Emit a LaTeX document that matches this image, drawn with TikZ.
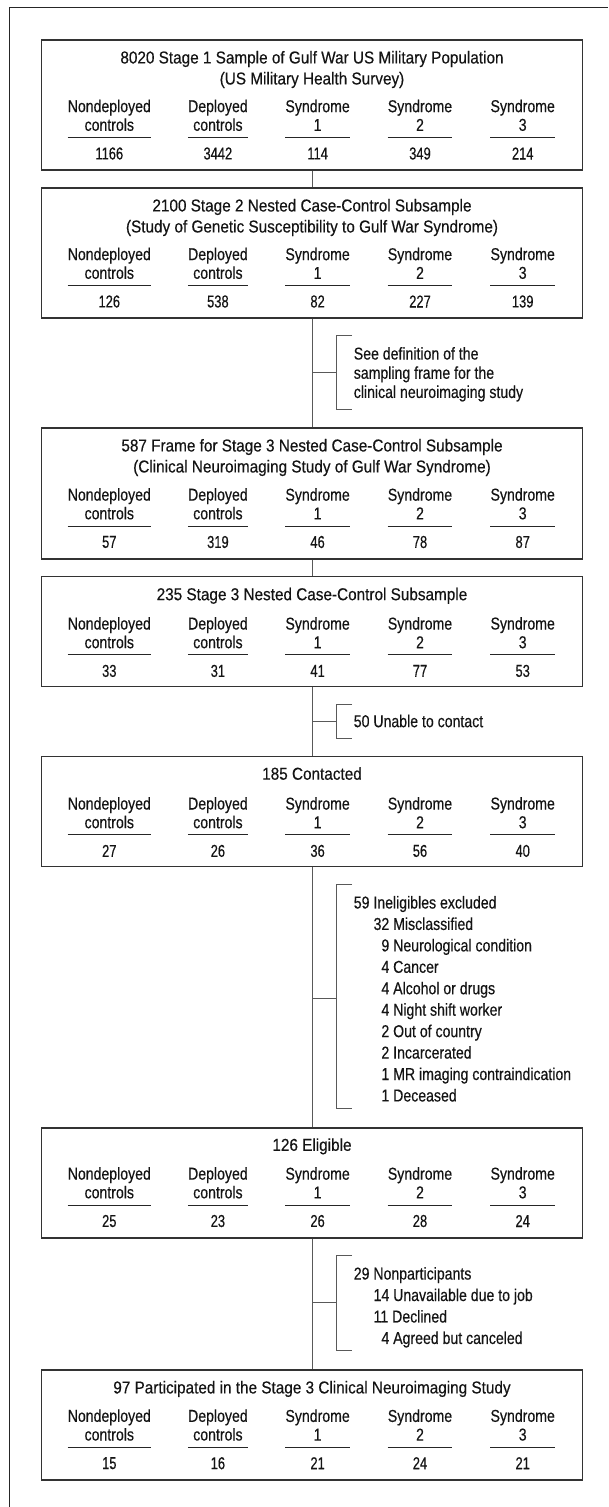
\documentclass[tikz,border=0pt]{standalone}
\usepackage{fontspec}
\setmainfont{Liberation Sans}[FakeStretch=0.82, FakeBold=0.4]
\newfontfamily\titlefont{Liberation Sans}[FakeStretch=0.89, FakeBold=0.4]
\newfontfamily\countfont{Liberation Sans}[FakeStretch=0.75, FakeBold=0.4]
\usetikzlibrary{positioning, calc}

\begin{document}
\begin{tikzpicture}[
  x=1pt, y=-1pt,
  every node/.append style = {text=black!92},
  stage/.style = {draw=black!80, line width=1.2pt, minimum width=541.5pt, anchor=north, inner sep=0pt},
  title/.style = {align=center, inner sep=0pt, font=\titlefont\fontsize{17.2}{21}\selectfont},
  head/.style = {align=center, inner sep=0pt, font=\fontsize{17.2}{18.7}\selectfont},
  count/.style = {inner sep=0pt, font=\countfont\fontsize{17.2}{20}\selectfont},
  rule/.style = {draw=black!85, line width=0.9pt},
  link/.style = {draw=black!65, line width=1pt},
  note/.style = {align=left, anchor=west, inner sep=0pt},
  frame/.style = {draw=black!85, line width=1.2pt}
]
  \useasboundingbox (0,0) rectangle (608,1507);

  % Outer frame (left and top edge only)
  \draw[frame] (9.3,1507) |- (608,7.3);

  % Stage boxes
  \node[stage, minimum height=130pt] (s1) at (312,39.3) {};
  \node[title] (s1t) at (312,69.5) {8020 Stage 1 Sample of Gulf War US Military Population\\(US Military Health Survey)};

  \node[stage, minimum height=130pt] (s2) at (312,187.3) {};
  \node[title] (s2t) at (312,217.5) {2100 Stage 2 Nested Case-Control Subsample\\(Study of Genetic Susceptibility to Gulf War Syndrome)};

  \node[stage, minimum height=131pt] (s3) at (312,427.3) {};
  \node[title] (s3t) at (312,457.5) {587 Frame for Stage 3 Nested Case-Control Subsample\\(Clinical Neuroimaging Study of Gulf War Syndrome)};

  \node[stage, minimum height=110pt] (s4) at (312,575.7) {};
  \node[title, anchor=base] (s4t) at (312,600.2) {235 Stage 3 Nested Case-Control Subsample};

  \node[stage, minimum height=110pt] (s5) at (312,756) {};
  \node[title, anchor=base] (s5t) at (312,779.7) {185 Contacted};

  \node[stage, minimum height=110pt] (s6) at (312,1127.3) {};
  \node[title, anchor=base] (s6t) at (312,1150.8) {126 Eligible};

  \node[stage, minimum height=110pt] (s7) at (312,1369.3) {};
  \node[title, anchor=base] (s7t) at (312,1393.4) {97 Participated in the Stage 3 Clinical Neuroimaging Study};

  % Column headings, rules and counts
  \foreach \s/\hy/\na/\nb/\nc/\nd/\ne in {
      s1/115.3/1166/3442/114/349/214,
      s2/263.3/126/538/82/227/139,
      s3/503.8/57/319/46/78/87,
      s4/632.7/33/31/41/77/53,
      s5/812.7/27/26/36/56/40,
      s6/1182.8/25/23/26/28/24,
      s7/1425/15/16/21/24/21} {
    \foreach \cx/\hd/\n [count=\i] in {
        109.3/{Nondeployed\\controls}/\na,
        217.9/{Deployed\\controls}/\nb,
        317.6/{Syndrome\\1}/\nc,
        420/{Syndrome\\2}/\nd,
        522.7/{Syndrome\\3}/\ne} {
      \node[head] (\s-h\i) at (\cx,\hy) {\hd};
      \draw[rule] ($(\s-h\i.west)+(0,22.2)$) -- ($(\s-h\i.east)+(0,22.2)$);
      \node[count] (\s-n\i) at (\cx,\hy+38.2) {\n};
    }
  }

  % Main flow
  \draw[link] (s1.south) -- (s2.north);
  \draw[link] (s2.south) -- (s3.north);
  \draw[link] (s3.south) -- (s4.north);
  \draw[link] (s4.south) -- (s5.north);
  \draw[link] (s5.south) -- (s6.north);
  \draw[link] (s6.south) -- (s7.north);

  % Side notes with brackets
  \coordinate (bA) at (336.6,372.3);
  \draw[link] (bA -| s2.south) -- (bA);
  \draw[link] (352,335) -| (336.6,409) -- (352,409);
  \node[note, font=\fontsize{17.2}{19.2}\selectfont] (exA) at (353.6,374.3) {See definition of the\\sampling frame for the\\clinical neuroimaging study};

  \coordinate (bB) at (336.6,721.5);
  \draw[link] (bB -| s4.south) -- (bB);
  \draw[link] (352,704) -| (336.6,738.3) -- (352,738.3);
  \node[note, font=\fontsize{17.2}{20}\selectfont] (exB) at (353.6,721) {50 Unable to contact};

  \coordinate (bC) at (336.6,998);
  \draw[link] (bC -| s5.south) -- (bC);
  \draw[link] (352,884) -| (336.6,1108.7) -- (352,1108.7);
  \node[note, font=\fontsize{17.2}{21.44}\selectfont] (exC) at (353.6,998.8) {59 Ineligibles excluded\\
    \hspace*{19.8pt}32 Misclassified\\
    \hspace*{19.8pt}\phantom{0}9 Neurological condition\\
    \hspace*{19.8pt}\phantom{0}4 Cancer\\
    \hspace*{19.8pt}\phantom{0}4 Alcohol or drugs\\
    \hspace*{19.8pt}\phantom{0}4 Night shift worker\\
    \hspace*{19.8pt}\phantom{0}2 Out of country\\
    \hspace*{19.8pt}\phantom{0}2 Incarcerated\\
    \hspace*{19.8pt}\phantom{0}1 MR imaging contraindication\\
    \hspace*{19.8pt}\phantom{0}1 Deceased};

  \coordinate (bD) at (336.6,1302.7);
  \draw[link] (bD -| s6.south) -- (bD);
  \draw[link] (352,1255) -| (336.6,1350.7) -- (352,1350.7);
  \node[note, font=\fontsize{17.2}{21.47}\selectfont] (exD) at (353.6,1307.3) {29 Nonparticipants\\
    \hspace*{19.8pt}14 Unavailable due to job\\
    \hspace*{19.8pt}11 Declined\\
    \hspace*{19.8pt}\phantom{0}4 Agreed but canceled};

\end{tikzpicture}
\end{document}
